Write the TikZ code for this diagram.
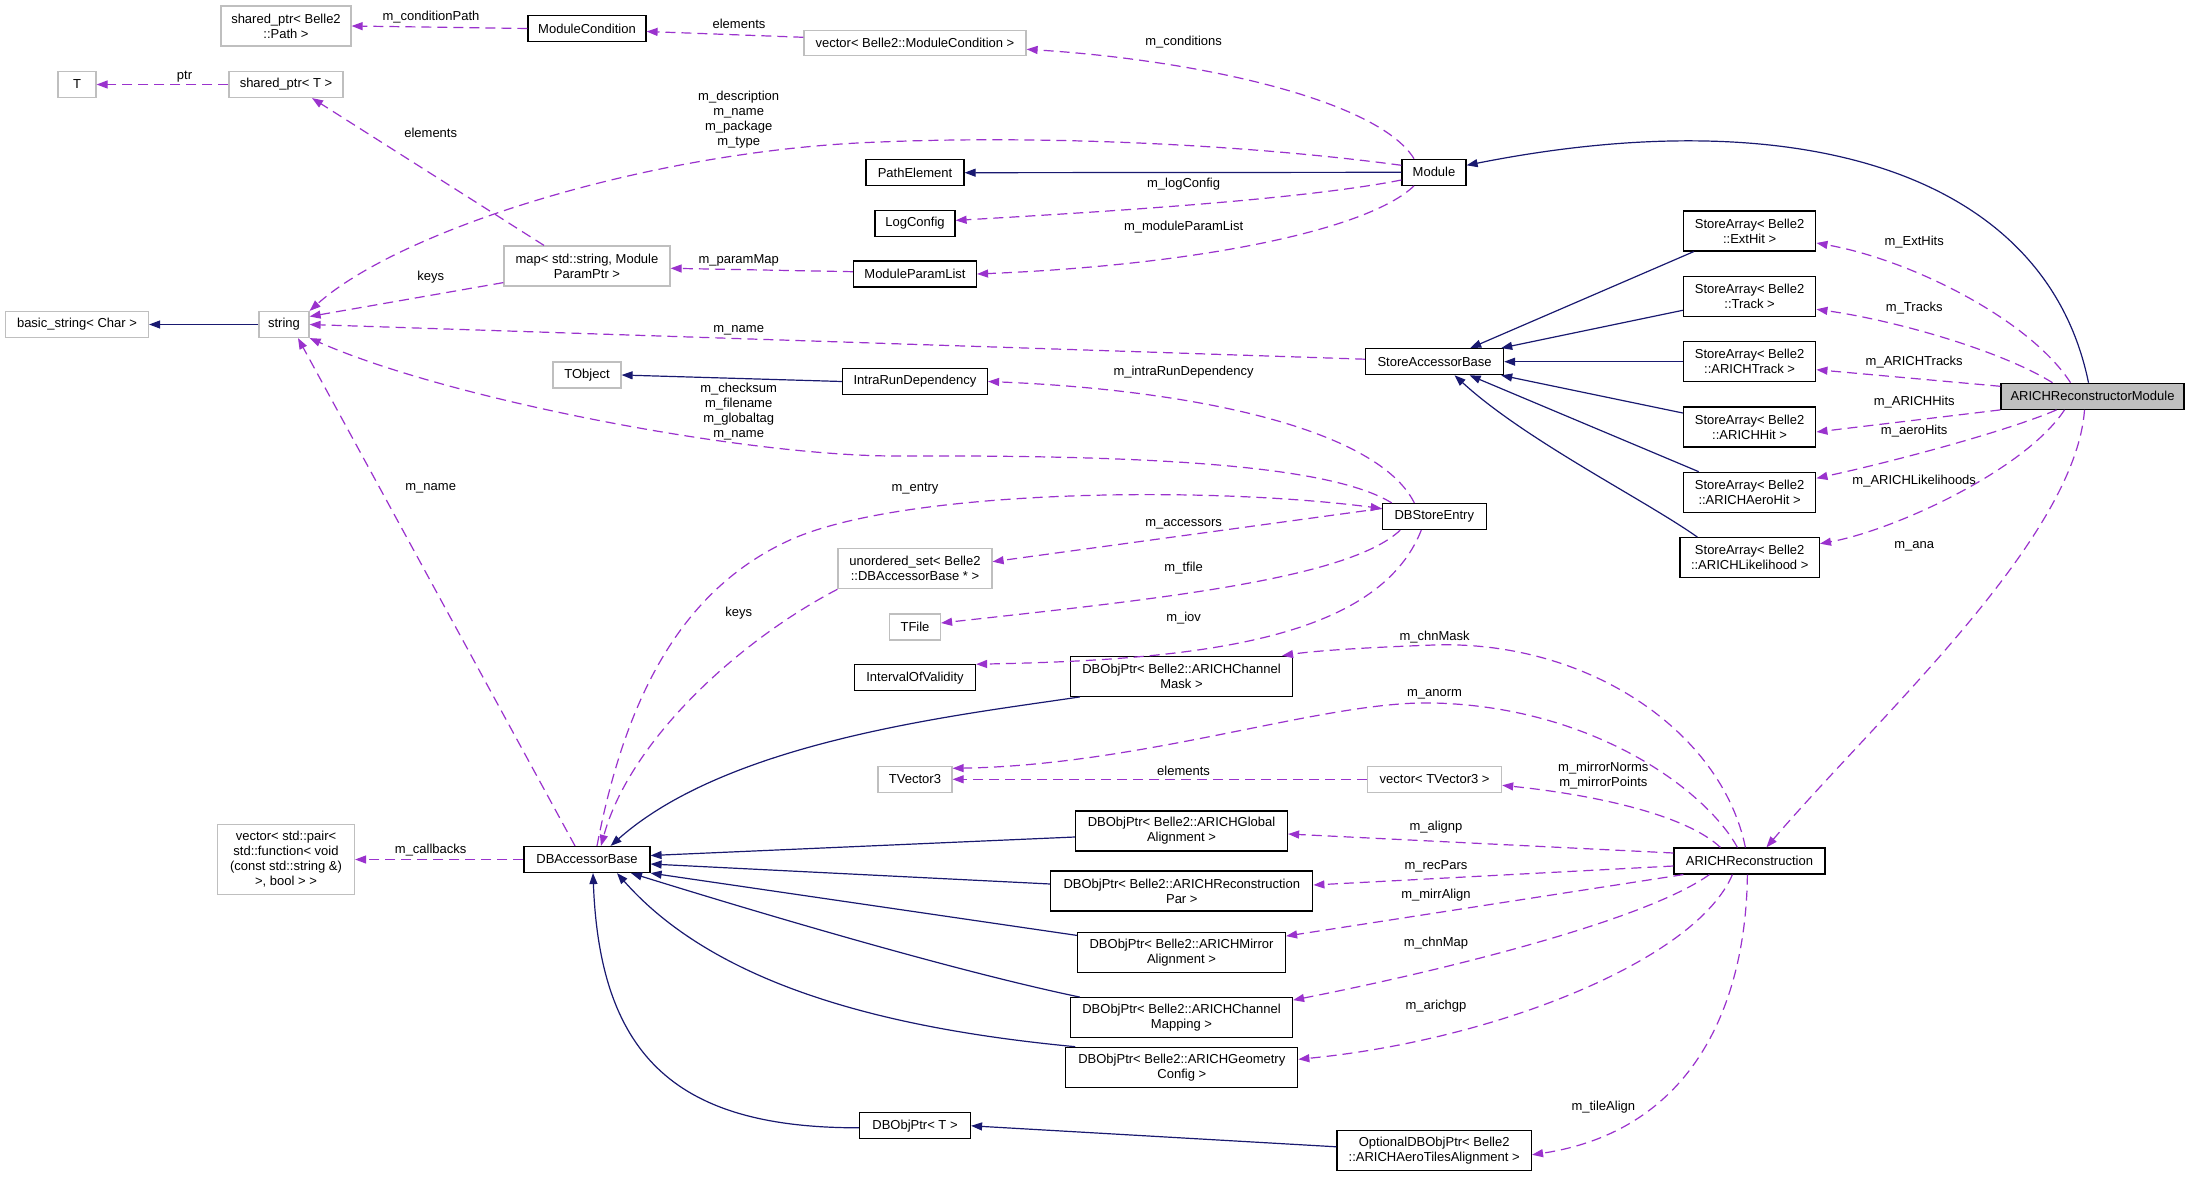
\documentclass[tikz,border=0pt]{standalone}
\usepackage{fontspec}
\setmainfont{Liberation Sans}
\usetikzlibrary{arrows.meta}
\definecolor{edgeblue}{HTML}{191970}
\definecolor{edgepurple}{HTML}{9A32CD}
\definecolor{boxgray}{HTML}{BFBFBF}
\begin{document}
\begin{tikzpicture}[x=1pt,y=-1pt,
  txt/.style={font=\fontsize{13}{15}\selectfont, align=center, inner sep=0pt},
  bx/.style 2 args={txt, minimum width=#1, minimum height=#2, line width=1.2pt},
  blk/.style={draw=black, fill=white},
  gry/.style={draw=boxgray, fill=white},
  armbox/.style={draw=black, fill=boxgray},
  lbl/.style={txt},
  inh/.style={draw=edgeblue, line width=1.2pt, -{Triangle[length=11pt,width=8pt]}},
  use/.style={draw=edgepurple, line width=1.2pt, dash pattern=on 10pt off 6pt, -{Triangle[length=11pt,width=8pt]}}
]
\useasboundingbox (0,0) rectangle (2193,1177);
\fill[white] (0,0) rectangle (2193,1177);

% ---------- nodes ----------
\node[bx={130pt}{40pt},gry] (spath) at (286,26) {shared\_ptr< Belle2\\::Path >};
\node[bx={118pt}{26pt},blk] (modcond) at (587,28.5) {ModuleCondition};
\node[bx={222pt}{25pt},gry] (vecmc) at (915,43.3) {vector< Belle2::ModuleCondition >};
\node[bx={38pt}{26pt},gry] (Tn) at (77,84.5) {T};
\node[bx={114pt}{26pt},gry] (sptrT) at (286,84.5) {shared\_ptr< T >};
\node[bx={98pt}{26pt},blk] (pathel) at (915,172.7) {PathElement};
\node[bx={64pt}{26pt},blk] (module) at (1434,172.3) {Module};
\node[bx={80pt}{26pt},blk] (logconf) at (915,223.4) {LogConfig};
\node[bx={166pt}{40pt},gry] (mapstr) at (587,266) {map< std::string, Module\\ParamPtr >};
\node[bx={123pt}{26pt},blk] (mpl) at (915,274) {ModuleParamList};
\node[bx={143pt}{26pt},gry] (basicstr) at (77,324.5) {basic\_string< Char >};
\node[bx={50pt}{26pt},gry] (strn) at (284,324.5) {string};
\node[bx={68pt}{26pt},gry] (tobject) at (587,375) {TObject};
\node[bx={145pt}{26pt},blk] (ird) at (915,381.5) {IntraRunDependency};
\node[bx={132.5pt}{40pt},blk] (saExt) at (1749.6,231) {StoreArray< Belle2\\::ExtHit >};
\node[bx={132.5pt}{40pt},blk] (saTrack) at (1749.6,296.3) {StoreArray< Belle2\\::Track >};
\node[bx={138pt}{26pt},blk] (sab) at (1434.6,361.7) {StoreAccessorBase};
\node[bx={132.5pt}{40pt},blk] (saAT) at (1749.6,361.7) {StoreArray< Belle2\\::ARICHTrack >};
\node[bx={183pt}{26pt},armbox] (arm) at (2092.5,396.3) {ARICHReconstructorModule};
\node[bx={132.5pt}{40pt},blk] (saHit) at (1749.6,427) {StoreArray< Belle2\\::ARICHHit >};
\node[bx={132.5pt}{40pt},blk] (saAero) at (1749.6,492.3) {StoreArray< Belle2\\::ARICHAeroHit >};
\node[bx={139.4pt}{40pt},blk] (saLik) at (1749.7,557.7) {StoreArray< Belle2\\::ARICHLikelihood >};
\node[bx={104pt}{26pt},blk] (dbse) at (1434.3,516.5) {DBStoreEntry};
\node[bx={154pt}{40pt},gry] (uset) at (915,568.7) {unordered\_set< Belle2\\::DBAccessorBase * >};
\node[bx={51pt}{26pt},gry] (tfile) at (915,627) {TFile};
\node[bx={121pt}{26pt},blk] (iov) at (915,677.8) {IntervalOfValidity};
\node[bx={222pt}{40pt},blk] (chMask) at (1181.5,676.3) {DBObjPtr< Belle2::ARICHChannel\\Mask >};
\node[bx={74pt}{26pt},gry] (tvec) at (915,779.3) {TVector3};
\node[bx={134pt}{26pt},gry] (vectv) at (1434.6,779.3) {vector< TVector3 >};
\node[bx={212pt}{40pt},blk] (glob) at (1181.5,831) {DBObjPtr< Belle2::ARICHGlobal\\Alignment >};
\node[bx={262pt}{40pt},blk] (recpar) at (1181.8,891) {DBObjPtr< Belle2::ARICHReconstruction\\Par >};
\node[bx={208pt}{40pt},blk] (mirr) at (1181.5,952.7) {DBObjPtr< Belle2::ARICHMirror\\Alignment >};
\node[bx={222pt}{40pt},blk] (chmap) at (1181.5,1017.7) {DBObjPtr< Belle2::ARICHChannel\\Mapping >};
\node[bx={232pt}{40pt},blk] (geo) at (1181.8,1067.3) {DBObjPtr< Belle2::ARICHGeometry\\Config >};
\node[bx={151pt}{26pt},blk] (arec) at (1749.4,861) {ARICHReconstruction};
\node[bx={137pt}{70pt},gry] (vecpair) at (286,859.5) {vector< std::pair<\\ std::function< void\\ (const std::string \&)\\ >, bool > >};
\node[bx={126pt}{26pt},blk] (dbab) at (587,859.5) {DBAccessorBase};
\node[bx={111pt}{26pt},blk] (dbT) at (915,1125.8) {DBObjPtr< T >};
\node[bx={194.5pt}{40pt},blk] (optdb) at (1434.2,1150.8) {OptionalDBObjPtr< Belle2\\::ARICHAeroTilesAlignment >};

% ---------- inheritance edges ----------
\draw[inh] ([xshift=-4pt]arm.north) .. controls (2045,170) and (1795,100) .. ([yshift=7pt]module.east);
\draw[inh] (module.west) -- (pathel.east);
\draw[inh] (strn.west) -- (basicstr.east);
\draw[inh] (ird.west) -- (tobject.east);
\draw[inh] ([xshift=11pt]saExt.south west) -- ([xshift=-34pt]sab.north east);
\draw[inh] ([yshift=-14pt]saTrack.west) -- ([xshift=-3pt]sab.north east);
\draw[inh] (saAT.west) -- (sab.east);
\draw[inh] ([yshift=14pt]saHit.west) -- ([xshift=-3pt]sab.south east);
\draw[inh] ([xshift=16pt]saAero.north west) -- ([xshift=35pt]sab.south);
\draw[inh] ([xshift=18pt]saLik.north west) .. controls (1645,500) and (1525,440) .. ([xshift=20pt]sab.south);
\draw[inh] ([xshift=10pt]chMask.south west) .. controls (960,715) and (730,740) .. ([xshift=-40pt]dbab.north east);
\draw[inh] ([yshift=-6pt]glob.west) -- ([yshift=4pt]dbab.east);
\draw[inh] ([yshift=7pt]recpar.west) -- ([yshift=-4.5pt]dbab.east);
\draw[inh] ([yshift=-3.3pt]mirr.north west) -- (dbab.south east);
\draw[inh] ([xshift=10pt]chmap.north west) .. controls (950,970) and (750,910) .. ([xshift=44pt]dbab.south);
\draw[inh] ([xshift=10pt]geo.north west) .. controls (900,1030) and (720,990) .. ([xshift=30pt]dbab.south);
\draw[inh] ([yshift=-2pt]dbT.west) .. controls (680,1128) and (600,1060) .. ([xshift=6pt]dbab.south);
\draw[inh] ([yshift=4pt]optdb.west) -- (dbT.east);

% ---------- usage edges ----------
\draw[use] (modcond.west) -- (spath.east);
\node[lbl] (l01) at (431,17) {m\_conditionPath};
\draw[use] ([yshift=6pt]vecmc.west) -- ([yshift=-3pt]modcond.east);
\node[lbl] (l02) at (739,24) {elements};
\draw[use] ([xshift=-20pt]module.north) .. controls (1378,100) and (1198,60) .. ([yshift=-6pt]vecmc.east);
\node[lbl] (l03) at (1183.6,42) {m\_conditions};
\draw[use] (sptrT.west) -- (Tn.east);
\node[lbl] (l04) at (184.5,76.7) {ptr};
\draw[use] ([xshift=-43pt]mapstr.north) -- ([xshift=26pt]sptrT.south);
\node[lbl] (l05) at (430.7,133.3) {elements};
\draw[use] ([yshift=7pt]module.west) .. controls (1250,145) and (1050,135) .. (880,142) .. controls (650,150) and (400,230) .. (strn.north east);
\node[lbl] (l06) at (738.7,119.7) {m\_description\\m\_name\\m\_package\\m\_type};
\draw[use] ([yshift=-7.7pt]module.west) .. controls (1300,200) and (1100,212) .. ([yshift=3pt]logconf.east);
\node[lbl] (l07) at (1183.6,184.3) {m\_logConfig};
\draw[use] ([xshift=-20pt]module.south) .. controls (1368,230) and (1198,265) .. (mpl.east);
\node[lbl] (l08) at (1183.6,226.7) {m\_moduleParamList};
\draw[use] ([yshift=2.3pt]mpl.west) -- ([yshift=-2.3pt]mapstr.east);
\node[lbl] (l09) at (738.7,260) {m\_paramMap};
\draw[use] ([yshift=4pt]mapstr.south west) -- ([yshift=8pt]strn.east);
\node[lbl] (l10) at (430.7,277.3) {keys};
\draw[use] ([yshift=2.5pt]sab.west) -- (strn.east);
\node[lbl] (l11) at (738.7,330) {m\_name};
\draw[use] ([xshift=10pt]dbse.north west) .. controls (1330,465) and (1150,455) .. (900,456) .. controls (750,457) and (450,400) .. (strn.south east);
\node[lbl] (l12) at (738.7,411.7) {m\_checksum\\m\_filename\\m\_globaltag\\m\_name};
\draw[use] ([xshift=-20pt]dbse.north) .. controls (1378,430) and (1198,390) .. (ird.east);
\node[lbl] (l13) at (1183.6,372.3) {m\_intraRunDependency};
\draw[use] ([yshift=8pt]dbse.west) -- ([yshift=7pt]uset.east);
\node[lbl] (l14) at (1183.6,524.3) {m\_accessors};
\draw[use] ([xshift=-34pt]dbse.south) .. controls (1348,580) and (1148,600) .. ([yshift=4pt]tfile.east);
\node[lbl] (l15) at (1183.6,568.3) {m\_tfile};
\draw[use] ([xshift=-13pt]dbse.south) .. controls (1378,640) and (1198,660) .. (iov.north east);
\node[lbl] (l16) at (1183.6,617.7) {m\_iov};
\draw[use] ([xshift=10pt]dbab.north) .. controls (625,700) and (680,590) .. (790,540) .. controls (900,490) and (1200,485) .. ([yshift=8pt]dbse.west);
\node[lbl] (l17) at (915,488.3) {m\_entry};
\draw[use] (uset.south west) .. controls (740,640) and (630,740) .. ([xshift=14pt]dbab.north);
\node[lbl] (l18) at (738.7,613.3) {keys};
\draw[use] ([xshift=-12pt]dbab.north) -- ([xshift=14pt]strn.south);
\node[lbl] (l19) at (430.7,488.3) {m\_name};
\draw[use] (dbab.west) -- (vecpair.east);
\node[lbl] (l20) at (430.7,850) {m\_callbacks};
\draw[use] ([xshift=-4pt]arec.north) .. controls (1721,730) and (1586,640) .. (1434,645) .. controls (1380,647) and (1320,650) .. ([xshift=-11pt]chMask.north east);
\node[lbl] (l21) at (1434.6,636.7) {m\_chnMask};
\draw[use] ([xshift=-12pt]arec.north) .. controls (1706,790) and (1593,707) .. (1434,703) .. controls (1326,700) and (1146,765) .. ([yshift=11pt]tvec.east);
\node[lbl] (l22) at (1434.6,694) {m\_anorm};
\draw[use] (vectv.west) -- (tvec.east);
\node[lbl] (l23) at (1183.6,770.7) {elements};
\draw[use] ([xshift=-29pt]arec.north) .. controls (1686,815) and (1596,795) .. ([yshift=-6pt]vectv.east);
\node[lbl] (l24) at (1603.3,775.5) {m\_mirrorNorms\\m\_mirrorPoints};
\draw[use] ([yshift=8pt]arec.west) -- ([yshift=-3pt]glob.east);
\node[lbl] (l25) at (1436,826.7) {m\_alignp};
\draw[use] ([yshift=-5pt]arec.west) -- ([yshift=6pt]recpar.east);
\node[lbl] (l26) at (1436,866.7) {m\_recPars};
\draw[use] ([xshift=10pt]arec.south west) -- ([yshift=-4pt]mirr.north east);
\node[lbl] (l27) at (1436,895) {m\_mirrAlign};
\draw[use] ([xshift=-40pt]arec.south) .. controls (1646,920) and (1446,970) .. ([yshift=-3pt]chmap.north east);
\node[lbl] (l28) at (1436,942.7) {m\_chnMap};
\draw[use] ([xshift=-17pt]arec.south) .. controls (1696,960) and (1496,1040) .. ([yshift=8pt]geo.east);
\node[lbl] (l29) at (1436,1006) {m\_arichgp};
\draw[use] ([xshift=-2pt]arec.south) .. controls (1746,1000) and (1696,1130) .. ([yshift=-4pt]optdb.east);
\node[lbl] (l30) at (1603.3,1106.7) {m\_tileAlign};
\draw[use] ([xshift=-22pt]arm.north) .. controls (2030,320) and (1912,260) .. ([yshift=-12pt]saExt.east);
\node[lbl] (l31) at (1914.2,241.7) {m\_ExtHits};
\draw[use] ([xshift=-40pt]arm.north) .. controls (2000,350) and (1893,320) .. ([yshift=-13pt]saTrack.east);
\node[lbl] (l32) at (1914.2,308.3) {m\_Tracks};
\draw[use] ([yshift=10pt]arm.west) -- ([yshift=-8pt]saAT.east);
\node[lbl] (l33) at (1914.2,362.3) {m\_ARICHTracks};
\draw[use] (arm.south west) -- ([yshift=-5pt]saHit.east);
\node[lbl] (l34) at (1914.2,401.7) {m\_ARICHHits};
\draw[use] ([xshift=-36pt]arm.south) .. controls (2010,430) and (1900,460) .. ([yshift=14pt]saAero.east);
\node[lbl] (l35) at (1914.2,431) {m\_aeroHits};
\draw[use] ([xshift=-28pt]arm.south) .. controls (2025,470) and (1895,530) .. ([yshift=14pt]saLik.east);
\node[lbl] (l36) at (1914.2,481) {m\_ARICHLikelihoods};
\draw[use] ([xshift=-8pt]arm.south) .. controls (2075,540) and (1875,720) .. ([xshift=17pt]arec.north);
\node[lbl] (l37) at (1914.2,546.7) {m\_ana};
\end{tikzpicture}
\end{document}
